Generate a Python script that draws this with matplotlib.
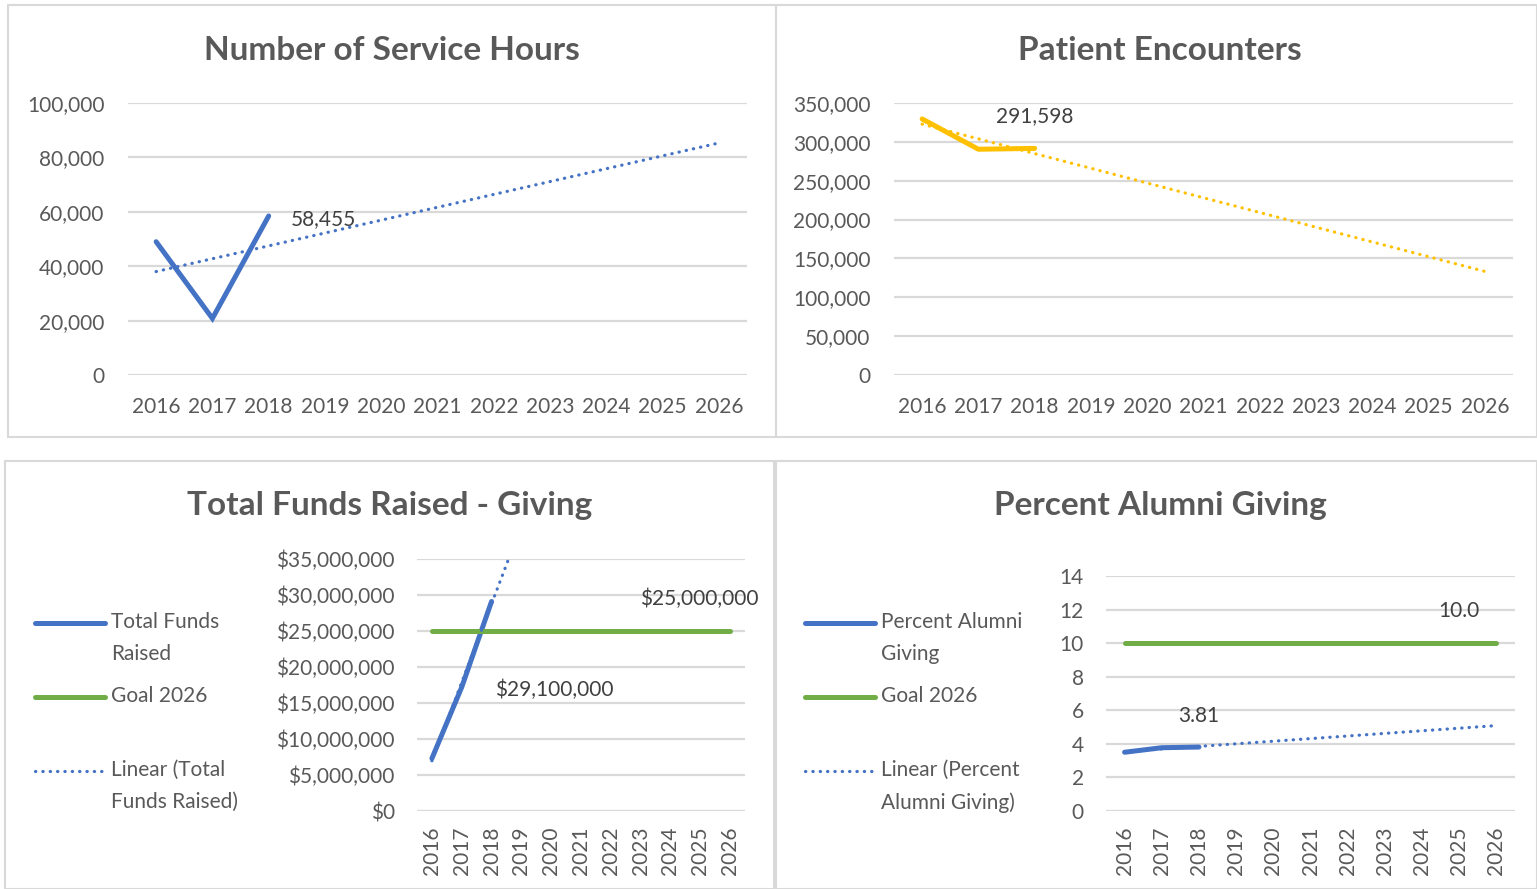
import matplotlib
matplotlib.use("Agg")
import matplotlib.pyplot as plt
import numpy as np
from matplotlib.lines import Line2D
from matplotlib.patches import Rectangle

W, H = 1537, 889

years = ["2016", "2017", "2018", "2019", "2020", "2021",
         "2022", "2023", "2024", "2025", "2026"]

service_hours = [49_000, 20_800, 58_455]
patient_encounters = [329_500, 290_500, 291_598]
funds_raised = [7_300_000, 17_200_000, 29_100_000]
goal_funds = [25_000_000, 25_000_000, 25_000_000, 25_000_000, 25_000_000, 25_000_000,
              25_000_000, 25_000_000, 25_000_000, 25_000_000, 25_000_000]
alumni_giving = [3.50, 3.77, 3.81]
goal_alumni = [10.0, 10.0, 10.0, 10.0, 10.0, 10.0, 10.0, 10.0, 10.0, 10.0, 10.0]

BLUE = "#4472C4"
GOLD = "#FFC000"
GREEN = "#70AD47"
GRID = "#D9D9D9"
TXT = "#595959"
LBL = "#404040"
FONT = "Lato"
TICK_FS = 15

plt.rcParams["font.family"] = [FONT, "DejaVu Sans"]


def box(x0, y0, x1, y1):
    return [x0 / W, 1 - y1 / H, (x1 - x0) / W, (y1 - y0) / H]


def frame(x0, y0, x1, y1):
    fig.add_artist(Rectangle((x0 / W, 1 - y1 / H), (x1 - x0) / W, (y1 - y0) / H,
                             transform=fig.transFigure, fill=False,
                             ec=GRID, lw=1.5))


def trend(values):
    xs = np.arange(len(values))
    slope, icpt = np.polyfit(xs, values, 1)
    xa = np.arange(len(years))
    return xa, slope * xa + icpt


def setup(ax, ymax, step, fmt, rotate=False, xpad=16, ypad=17):
    ax.set_xlim(-0.5, len(years) - 0.5)
    ax.set_ylim(0, ymax)
    ax.set_yticks(np.arange(0, ymax + step / 2, step))
    ax.yaxis.set_major_formatter(matplotlib.ticker.FuncFormatter(lambda v, p: fmt.format(v)))
    ax.set_xticks(range(len(years)))
    ax.set_xticklabels(years, rotation=90 if rotate else 0)
    ax.grid(axis="y", color=GRID, lw=1.6)
    ax.set_axisbelow(True)
    for s in ax.spines.values():
        s.set_visible(False)
    ax.tick_params(axis="both", length=0, labelsize=TICK_FS, labelcolor=TXT)
    ax.tick_params(axis="x", pad=xpad)
    ax.tick_params(axis="y", pad=ypad)


def dotted(ax, xs, ys, color):
    ax.plot(xs, ys, color=color, lw=2.3, linestyle=(0, (0.1, 2.2)),
            dash_capstyle="round")


def label(ax, x, y, text, dx, dy, ha="center"):
    ax.annotate(text, (x, y), xytext=(dx, dy), textcoords="offset pixels",
                ha=ha, va="center", fontsize=TICK_FS, color=LBL)


def legend(x, y_lines, items):
    for (text, color, style), y in zip(items, y_lines):
        ls = "-" if style == "solid" else (0, (0.1, 2.2))
        lw = 3.6 if style == "solid" else 2.3
        fig.add_artist(Line2D([x / W, (x + 70) / W], [1 - y / H, 1 - y / H],
                              transform=fig.transFigure, color=color, lw=lw,
                              linestyle=ls, solid_capstyle="round",
                              dash_capstyle="round"))
        fig.text((x + 76) / W, 1 - (y - 11) / H, text, ha="left", va="top",
                 fontsize=TICK_FS, color=TXT, linespacing=1.75)


fig = plt.figure(figsize=(W / 100, H / 100), dpi=100)

frame(8, 5, 776, 437)
frame(776, 5, 1537, 437)
frame(5, 461, 774, 889)
frame(776, 461, 1537, 889)

title_kw = dict(ha="center", va="center", fontsize=24, fontweight="bold", color=TXT)
fig.text(392 / W, 1 - 51 / H, "Number of Service Hours", **title_kw)
fig.text(1160 / W, 1 - 51 / H, "Patient Encounters", **title_kw)
fig.text(390 / W, 1 - 506 / H, "Total Funds Raised - Giving", **title_kw)
fig.text(1160 / W, 1 - 506 / H, "Percent Alumni Giving", **title_kw)

# service hours
ax1 = fig.add_axes(box(128, 103, 747, 375))
setup(ax1, 100_000, 20_000, "{:,.0f}")
ax1.plot(range(len(service_hours)), service_hours, color=BLUE, lw=3.6,
         solid_capstyle="round", solid_joinstyle="miter")
dotted(ax1, *trend(service_hours), BLUE)
label(ax1, 2, service_hours[2], f"{service_hours[2]:,}", 22, -3, ha="left")

# patient encounters
ax2 = fig.add_axes(box(894, 103, 1513, 375))
setup(ax2, 350_000, 50_000, "{:,.0f}")
ax2.plot(range(len(patient_encounters)), patient_encounters, color=GOLD, lw=3.6,
         solid_capstyle="round")
dotted(ax2, *trend(patient_encounters), GOLD)
label(ax2, 2, patient_encounters[2], f"{patient_encounters[2]:,}", 0, 32)

# total funds raised
ax3 = fig.add_axes(box(417, 559, 745, 811))
setup(ax3, 35_000_000, 5_000_000, "${:,.0f}", rotate=True, xpad=11, ypad=16)
ax3.plot(range(len(funds_raised)), funds_raised, color=BLUE, lw=3.6,
         solid_capstyle="round")
ax3.plot(range(len(goal_funds)), goal_funds, color=GREEN, lw=3.6,
         solid_capstyle="round")
dotted(ax3, *trend(funds_raised), BLUE)
label(ax3, 2, funds_raised[2], f"${funds_raised[2]:,}", 63, -88)
label(ax3, 10, goal_funds[10], f"${goal_funds[10]:,}", -31, 32)
legend(35, [623, 697, 771], [("Total Funds\nRaised", BLUE, "solid"),
                             ("Goal 2026", GREEN, "solid"),
                             ("Linear (Total\nFunds Raised)", BLUE, "dot")])

# percent alumni giving
ax4 = fig.add_axes(box(1106, 576, 1515, 811))
setup(ax4, 14, 2, "{:.0f}", rotate=True, xpad=11, ypad=16)
ax4.plot(range(len(alumni_giving)), alumni_giving, color=BLUE, lw=3.6,
         solid_capstyle="round")
ax4.plot(range(len(goal_alumni)), goal_alumni, color=GREEN, lw=3.6,
         solid_capstyle="round")
dotted(ax4, *trend(alumni_giving), BLUE)
label(ax4, 2, alumni_giving[2], f"{alumni_giving[2]:.2f}", 0, 31)
label(ax4, 10, goal_alumni[10], f"{goal_alumni[10]:.1f}", -38, 32)
legend(805, [623, 697, 771], [("Percent Alumni\nGiving", BLUE, "solid"),
                              ("Goal 2026", GREEN, "solid"),
                              ("Linear (Percent\nAlumni Giving)", BLUE, "dot")])

fig.savefig("out.png", dpi=100)
